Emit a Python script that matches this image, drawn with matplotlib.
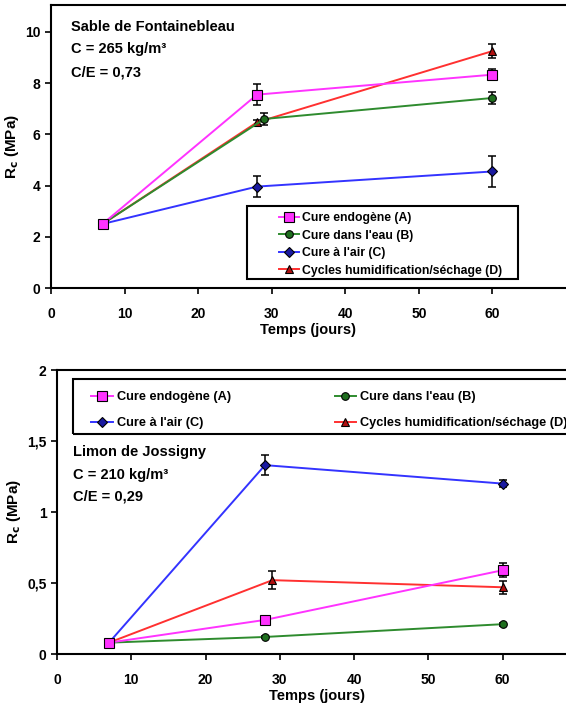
import matplotlib
matplotlib.use("Agg")
import matplotlib.pyplot as plt
from matplotlib.patches import Rectangle

plt.rcParams['font.family'] = ['Liberation Sans', 'DejaVu Sans']

labels = ["Cure endogène (A)", "Cure dans l'eau (B)",
          "Cure à l'air (C)", "Cycles humidification/séchage (D)"]
line_colors = ["#ff33ff", "#2e8b2e", "#3333ff", "#ff3030"]
face_colors = ["#ff33ff", "#1f6f1f", "#1a1aa0", "#b01010"]
markers = ["s", "o", "D", "^"]

# Sable de Fontainebleau
sable_x = [[7, 28, 60], [7, 29, 60], [7, 28, 60], [7, 28, 60]]
sable_y = [[2.5, 7.55, 8.33], [2.5, 6.6, 7.42], [2.5, 3.96, 4.55], [2.5, 6.47, 9.25]]
sable_err = [[0.05, 0.42, 0.22], [0.05, 0.25, 0.24], [0.05, 0.4, 0.62], [0.05, 0.1, 0.28]]

# Limon de Jossigny
limon_x = [[7, 28, 60], [7, 28, 60], [7, 28, 60], [7, 29, 60]]
limon_y = [[0.08, 0.24, 0.59], [0.08, 0.12, 0.21], [0.08, 1.33, 1.2], [0.08, 0.52, 0.47]]
limon_err = [[0.01, 0.01, 0.05], [0.01, 0.01, 0.01], [0.01, 0.07, 0.025], [0.01, 0.065, 0.045]]

W, H = 566, 710
fig = plt.figure(figsize=(W / 100, H / 100), dpi=100)

def px_axes(left, top, right, bottom):
    return fig.add_axes([left / W, (H - bottom) / H, (right - left) / W, (bottom - top) / H])

def style_axes(ax):
    for s in ["left", "bottom", "top"]:
        ax.spines[s].set_linewidth(1.5)
    ax.spines["right"].set_visible(False)
    ax.tick_params(direction="out", length=4, width=1.2, labelsize=10)
    ax.tick_params(axis="x", pad=10)
    for t in ax.get_xticklabels() + ax.get_yticklabels():
        t.set_fontweight("bold")
    ax.set_xlabel("Temps (jours)", fontsize=10.5, fontweight="bold", labelpad=1)
    ax.set_ylabel("R$_\\mathbf{c}$ (MPa)", fontsize=11, fontweight="bold", labelpad=3)

def draw_series(ax, xs, ys, errs, ms):
    order = [3, 2, 1, 0]
    for i in order:
        ax.errorbar(xs[i], ys[i], yerr=errs[i], fmt="none", ecolor="black",
                    elinewidth=1.1, capsize=3, capthick=1.1, zorder=4)
    handles = {}
    for i in order:
        handles[i], = ax.plot(xs[i], ys[i], color=line_colors[i], lw=1.4,
                              marker=markers[i], ms=ms[i], mfc=face_colors[i],
                              mec="black", mew=0.8, label=labels[i], zorder=5)
    return handles

def add_notes(ax, x, ys, lines):
    for y, s in zip(ys, lines):
        ax.text(x, y, s, transform=ax.transAxes, fontsize=10.5,
                fontweight="bold", va="center")

# top chart
ax1 = px_axes(51, 5, 566, 288)
hd = draw_series(ax1, sable_x, sable_y, sable_err, [6.5, 5.5, 5, 6])
ax1.set_xlim(0, 70)
ax1.set_ylim(0, 11.05)
ax1.set_xticks([0, 10, 20, 30, 40, 50, 60])
ax1.set_yticks([0, 2, 4, 6, 8, 10])
style_axes(ax1)
add_notes(ax1, 0.039, [0.922, 0.843, 0.763],
          ["Sable de Fontainebleau", "C = 265 kg/m³", "C/E = 0,73"])
fig.legend([hd[i] for i in range(4)], labels, loc="upper left",
           bbox_to_anchor=(273 / W, (H - 206) / H),
           frameon=False, borderpad=0, prop={"size": 8.8, "weight": "bold"},
           handlelength=1.6, handletextpad=0.3, labelspacing=0.45)
fig.add_artist(Rectangle((247 / W, (H - 279) / H), 271 / W, 73 / H,
                         transform=fig.transFigure, fill=False, lw=1.5,
                         ec="black"))

# bottom chart
ax2 = px_axes(57, 370, 577, 654)
hd = draw_series(ax2, limon_x, limon_y, limon_err, [6.5, 5.5, 5, 6])
ax2.set_xlim(0, 70)
ax2.set_ylim(0, 2)
ax2.set_xticks([0, 10, 20, 30, 40, 50, 60])
ax2.set_yticks([0, 0.5, 1, 1.5, 2])
ax2.set_yticklabels(["0", "0,5", "1", "1,5", "2"])
style_axes(ax2)
add_notes(ax2, 0.031, [0.711, 0.630, 0.556],
          ["Limon de Jossigny", "C = 210 kg/m³", "C/E = 0,29"])
# rows: A B / C D  (legend fills column by column)
leg_order = [0, 2, 1, 3]
fig.legend([hd[i] for i in leg_order], [labels[i] for i in leg_order],
           loc="upper left", bbox_to_anchor=(85 / W, (H - 385) / H),
           ncol=2, frameon=False, borderpad=0, prop={"size": 9.2, "weight": "bold"},
           handlelength=1.7, handletextpad=0.3, labelspacing=1.1,
           columnspacing=8.1)
fig.add_artist(Rectangle((73 / W, (H - 434) / H), 600 / W, 55 / H,
                         transform=fig.transFigure, fill=False, lw=1.5,
                         ec="black"))

fig.savefig("out.png", dpi=100)
